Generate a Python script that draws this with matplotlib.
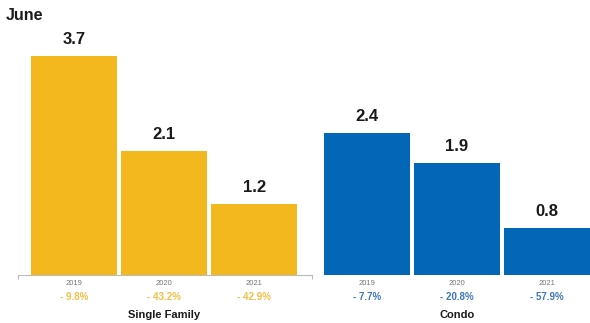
import matplotlib.pyplot as plt

plt.rcParams['font.family'] = ['Liberation Sans', 'DejaVu Sans']

# Sales volume by year for June
years = ['2019', '2020', '2021']
single_family = [3.7, 2.1, 1.2]
condo = [2.4, 1.9, 0.8]
sf_change = ['- 9.8%', '- 43.2%', '- 42.9%']
condo_change = ['- 7.7%', '- 20.8%', '- 57.9%']
groups = ['Single Family', 'Condo']

yellow = '#F3B81E'
blue = '#0366B6'
yellow_txt = '#F2BE45'
blue_txt = '#3F75BC'

x_sf = [0, 1, 2]
x_condo = [3.25, 4.25, 5.25]
width = 0.95

fig = plt.figure(figsize=(5.9, 3.23), dpi=100)
ax = fig.add_axes([18 / 590, 48 / 323, 572 / 590, 275 / 323])

ax.bar(x_sf, single_family, width=width, color=yellow)
ax.bar(x_condo, condo, width=width, color=blue)

ax.set_xlim(-0.619, 5.725)
ax.set_ylim(0, 4.65)

for spine in ['top', 'right', 'left']:
    ax.spines[spine].set_visible(False)
ax.spines['bottom'].set_color('#BBBBBB')
ax.spines['bottom'].set_linewidth(0.8)
ax.spines['bottom'].set_bounds(-0.619, 2.64)
ax.set_xticks([-0.619, 2.64])
ax.set_xticklabels([])
ax.tick_params(axis='x', length=3, color='#BBBBBB', width=0.8)
ax.set_yticks([])

# value labels above bars
for xs, vals in [(x_sf, single_family), (x_condo, condo)]:
    for x, v in zip(xs, vals):
        ax.annotate(f'{v}', (x, v), xytext=(0, 6.5), textcoords='offset points',
                    ha='center', va='bottom', fontsize=12, fontweight='bold',
                    color='#1a1a1a')

# years and changes under bars
trans = ax.get_xaxis_transform()
for xs, changes, col in [(x_sf, sf_change, yellow_txt), (x_condo, condo_change, blue_txt)]:
    for x, yr, ch in zip(xs, years, changes):
        ax.text(x, -0.030, yr, transform=trans, ha='center', va='center',
                fontsize=5.5, color='#777777')
        ax.text(x, -0.080, ch, transform=trans, ha='center', va='center',
                fontsize=7, fontweight='bold', color=col)

for xs, name in [(x_sf, groups[0]), (x_condo, groups[1])]:
    ax.text(xs[1], -0.147, name, transform=trans, ha='center', va='center',
            fontsize=8, fontweight='bold', color='#1a1a1a')

fig.text(6 / 590, 1 - 16 / 323, 'June', ha='left', va='center',
         fontsize=11.5, fontweight='bold', color='#1a1a1a')

fig.savefig('out.png', dpi=100)
